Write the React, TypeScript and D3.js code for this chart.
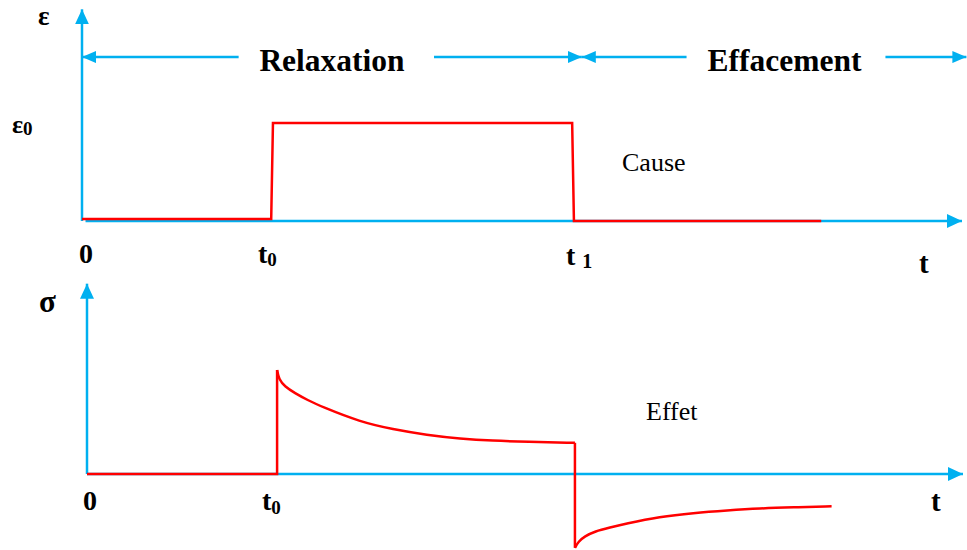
import React from "react";
import * as d3 from "d3";

// ---- data (time in arbitrary units 0..10) ----
const causeT = [0, 2.15, 2.17, 5.57, 5.59, 8.4];
const causeE = [0.02, 0.02, 1, 1, 0, 0];

const stepT = [0, 2.17, 2.17];
const stepS = [0, 0, 1];

const decayT = [2.17, 2.19, 2.26, 2.37, 2.52, 2.67, 3.12, 3.49, 3.88, 4.26, 4.63, 5.02, 5.57];
const decayS = [1.0, 0.91, 0.84, 0.78, 0.71, 0.65, 0.5, 0.43, 0.375, 0.34, 0.32, 0.31, 0.3];

const dropT = [5.57, 5.57];
const dropS = [0.3, -0.71];

const recovT = [5.57, 5.61, 5.68, 5.8, 5.97, 6.14, 6.54, 6.92, 7.31, 7.68, 8.06, 8.5];
const recovS = [-0.71, -0.65, -0.6, -0.55, -0.515, -0.48, -0.41, -0.375, -0.35, -0.33, -0.32, -0.31];

const tMarks = ["0", "t0", "t1"];
const phaseLabels = ["Relaxation", "Effacement"];
const panelLabels = ["Cause", "Effet"];

const BLUE = "#00b0f0";
const RED = "#ff0000";
const SERIF = "'Liberation Serif', 'Times New Roman', serif";

export default function App() {
  const W = 967, H = 550;
  const xTop = d3.scaleLinear().domain([0, 10]).range([82, 962]);
  const yTop = d3.scaleLinear().domain([0, 1]).range([221, 123]);
  const xBot = d3.scaleLinear().domain([0, 10]).range([87, 963]);
  const yBot = d3.scaleLinear().domain([0, 1]).range([474, 370]);

  const lineTopLin = d3.line<[number, number]>().x(d => xTop(d[0])).y(d => yTop(d[1]));
  const lineBotLin = d3.line<[number, number]>().x(d => xBot(d[0])).y(d => yBot(d[1]));
  const lineBotCurve = d3
    .line<[number, number]>()
    .x(d => xBot(d[0]))
    .y(d => yBot(d[1]))
    .curve(d3.curveBasis);

  const zip = (a: number[], b: number[]) => a.map((v, i) => [v, b[i]] as [number, number]);

  const arrowRow = yTop(1.673);
  const t1x = xTop(5.68);

  return (
    <svg width={W} height={H} style={{ position: "absolute", left: 0, top: 0, background: "#fff" }}>
      <defs>
        <marker id="axArrow" markerUnits="userSpaceOnUse" markerWidth={16} markerHeight={14}
          refX={15} refY={7} orient="auto">
          <path d="M0,0 L15,7 L0,14 Z" fill={BLUE} />
        </marker>
        <marker id="rowArrow" markerUnits="userSpaceOnUse" markerWidth={15} markerHeight={12}
          refX={14} refY={6} orient="auto">
          <path d="M0,0 L14,6 L0,12 Z" fill={BLUE} />
        </marker>
      </defs>

      {/* ---------- top panel axes ---------- */}
      <line x1={xTop(0)} y1={yTop(0)} x2={xTop(0)} y2={yTop(2.16)} stroke={BLUE} strokeWidth={2.5}
        markerEnd="url(#axArrow)" />
      <line x1={xTop(0.04)} y1={yTop(0)} x2={xTop(10)} y2={yTop(0)} stroke={BLUE} strokeWidth={2.5}
        markerEnd="url(#axArrow)" />

      {/* phase arrows */}
      <line x1={xTop(1.78)} y1={arrowRow} x2={xTop(0)} y2={arrowRow} stroke={BLUE} strokeWidth={2.5}
        markerEnd="url(#rowArrow)" />
      <line x1={xTop(4.0)} y1={arrowRow} x2={t1x} y2={arrowRow} stroke={BLUE} strokeWidth={2.5}
        markerEnd="url(#rowArrow)" />
      <line x1={xTop(6.87)} y1={arrowRow} x2={t1x} y2={arrowRow} stroke={BLUE} strokeWidth={2.5}
        markerEnd="url(#rowArrow)" />
      <line x1={xTop(9.13)} y1={arrowRow} x2={xTop(10.05)} y2={arrowRow} stroke={BLUE} strokeWidth={2.5}
        markerEnd="url(#rowArrow)" />

      <text x={332} y={arrowRow + 14} textAnchor="middle" fontFamily={SERIF}
        fontWeight="bold" fontSize={31.5} fill="#000">{phaseLabels[0]}</text>
      <text x={784.5} y={arrowRow + 14} textAnchor="middle" fontFamily={SERIF}
        fontWeight="bold" fontSize={31.5} fill="#000">{phaseLabels[1]}</text>

      {/* cause curve */}
      <path d={lineTopLin(zip(causeT, causeE)) || ""} fill="none" stroke={RED} strokeWidth={2.5} />

      {/* top labels */}
      <text x={38} y={25} fontFamily={SERIF} fontWeight="bold" fontSize={27} fill="#000">ε</text>
      <text x={12} y={133} fontFamily={SERIF} fontWeight="bold" fontSize={26} fill="#000">
        ε<tspan fontSize={19} dy={2}>0</tspan>
      </text>
      <text x={79} y={263} fontFamily={SERIF} fontWeight="bold" fontSize={28} fill="#000">{tMarks[0]}</text>
      <text x={258} y={263} fontFamily={SERIF} fontWeight="bold" fontSize={28} fill="#000">
        t<tspan fontSize={19} dy={3}>0</tspan>
      </text>
      <text x={566} y={265} fontFamily={SERIF} fontWeight="bold" fontSize={28} fill="#000">
        t<tspan fontSize={20} dy={3} dx={7}>1</tspan>
      </text>
      <text x={919} y={273} fontFamily={SERIF} fontWeight="bold" fontSize={29} fill="#000">t</text>
      <text x={622} y={171} fontFamily={SERIF} fontSize={26} fill="#000">{panelLabels[0]}</text>

      {/* ---------- bottom panel axes ---------- */}
      <line x1={xBot(0)} y1={yBot(0)} x2={xBot(0)} y2={yBot(1.83)} stroke={BLUE} strokeWidth={2.5}
        markerEnd="url(#axArrow)" />
      <line x1={xBot(0)} y1={yBot(0)} x2={xBot(10)} y2={yBot(0)} stroke={BLUE} strokeWidth={2.5}
        markerEnd="url(#axArrow)" />

      {/* effect curve */}
      <path d={lineBotLin(zip(stepT, stepS)) || ""} fill="none" stroke={RED} strokeWidth={2.5} />
      <path d={lineBotCurve(zip(decayT, decayS)) || ""} fill="none" stroke={RED} strokeWidth={2.5} />
      <path d={lineBotLin(zip(dropT, dropS)) || ""} fill="none" stroke={RED} strokeWidth={2.5} />
      <path d={lineBotCurve(zip(recovT, recovS)) || ""} fill="none" stroke={RED} strokeWidth={2.5} />

      {/* bottom labels */}
      <text x={39} y={312} fontFamily={SERIF} fontWeight="bold" fontSize={31} fill="#000">σ</text>
      <text x={83} y={510} fontFamily={SERIF} fontWeight="bold" fontSize={28} fill="#000">{tMarks[0]}</text>
      <text x={262} y={510} fontFamily={SERIF} fontWeight="bold" fontSize={28} fill="#000">
        t<tspan fontSize={19} dy={4}>0</tspan>
      </text>
      <text x={931} y={511} fontFamily={SERIF} fontWeight="bold" fontSize={29} fill="#000">t</text>
      <text x={646} y={420} fontFamily={SERIF} fontSize={26} fill="#000">{panelLabels[1]}</text>
    </svg>
  );
}
